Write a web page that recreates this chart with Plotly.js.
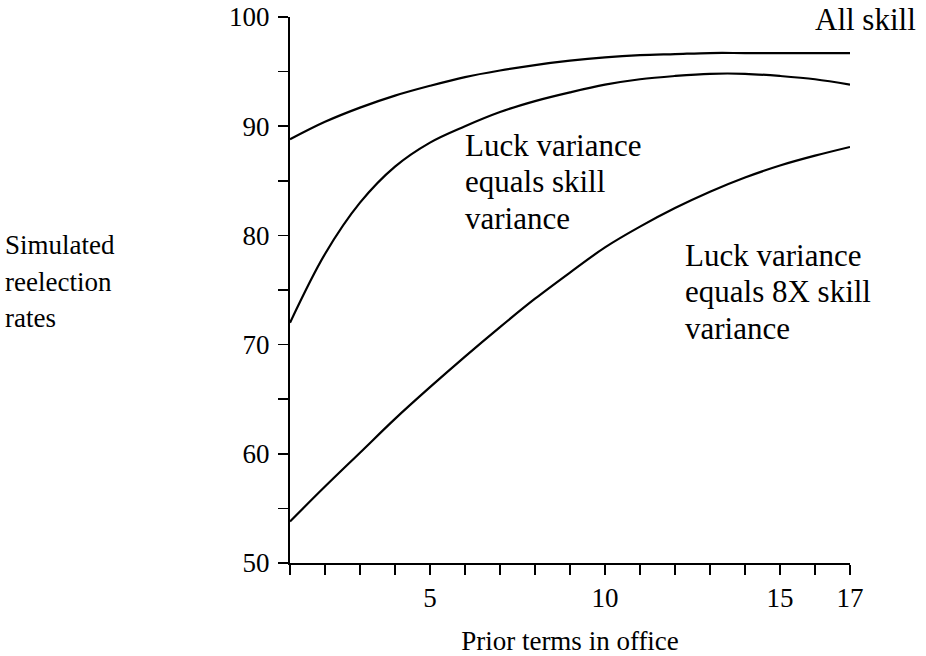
<!DOCTYPE html>
<html>
<head>
<meta charset="utf-8">
<script src="https://cdn.plot.ly/plotly-3.0.1.min.js"></script>
<style>
  html, body { margin: 0; padding: 0; background: #fff; }
  #chart { width: 926px; height: 656px; }
</style>
</head>
<body>
<div id="chart"></div>
<script>
// Prior terms in office
const terms = [1, 2, 3, 4, 5, 6, 7, 8, 9, 10, 11, 12, 13, 14, 15, 16, 17];
// Simulated reelection rates
const allSkill    = [88.8, 90.4, 91.7, 92.8, 93.7, 94.5, 95.1, 95.6, 96.0, 96.3, 96.5, 96.6, 96.7, 96.7, 96.7, 96.7, 96.7];
const luckEqSkill = [72.0, 78.3, 83.0, 86.3, 88.5, 90.0, 91.3, 92.3, 93.1, 93.8, 94.3, 94.6, 94.8, 94.8, 94.6, 94.3, 93.8];
const luck8xSkill = [53.8, 57.0, 60.1, 63.2, 66.1, 68.9, 71.6, 74.2, 76.6, 78.9, 80.8, 82.5, 84.0, 85.3, 86.4, 87.3, 88.1];

const xTickVals = [1, 2, 3, 4, 5, 6, 7, 8, 9, 10, 11, 12, 13, 14, 15, 16, 17];
const xTickText = ['', '', '', '', '5', '', '', '', '', '10', '', '', '', '', '15', '', '17'];
const yTickVals = [50, 55, 60, 65, 70, 75, 80, 85, 90, 95, 100];
const yTickText = ['50', '', '60', '', '70', '', '80', '', '90', '', '100'];

const labelAllSkill = ['All skill'];
const labelLuckEq = ['Luck variance', 'equals skill', 'variance'];
const labelLuck8x = ['Luck variance', 'equals 8X skill', 'variance'];
const labelYTitle = ['Simulated', 'reelection', 'rates'];

const FONT = '"Liberation Serif", "Times New Roman", serif';
const FS = 31;
const lineStyle = {color: '#000', width: 2.2, shape: 'spline', smoothing: 1};

const traces = [allSkill, luckEqSkill, luck8xSkill].map(ys => ({
  x: terms, y: ys, type: 'scatter', mode: 'lines', line: lineStyle,
  hoverinfo: 'skip', showlegend: false
}));

const plotL = 290, plotR = 850, plotT = 17, plotB = 563;
const W = plotR - plotL, H = plotB - plotT;
function px(xPix) { return (xPix - plotL) / W; }
function py(yPix) { return (plotB - yPix) / H; }

const LINE_GAP = 36.5;
const annotations = [];
function addBlock(lines, leftPix, firstCenterPix, size) {
  lines.forEach((t, i) => {
    annotations.push({
      text: t, xref: 'paper', yref: 'paper',
      x: px(leftPix), y: py(firstCenterPix + i * LINE_GAP),
      xanchor: 'left', yanchor: 'middle', showarrow: false,
      font: {family: FONT, size: size, color: '#000'}
    });
  });
}
addBlock(labelAllSkill, 813, 20, FS);
addBlock(labelLuckEq, 463, 145, FS);
addBlock(labelLuck8x, 683, 255, FS);
addBlock(labelYTitle, 3, 245, 27);

const layout = {
  width: 926, height: 656,
  margin: {l: plotL, r: 926 - plotR, t: plotT, b: 656 - plotB},
  paper_bgcolor: '#fff', plot_bgcolor: '#fff',
  font: {family: FONT, size: FS, color: '#000'},
  xaxis: {
    range: [1, 17], tickmode: 'array', tickvals: xTickVals, ticktext: xTickText,
    ticks: 'outside', ticklen: 10, tickwidth: 1.5, tickcolor: '#000',
    showline: true, linecolor: '#000', linewidth: 2, showgrid: false, zeroline: false,
    tickfont: {family: FONT, size: 27, color: '#000'},
    title: {text: 'Prior terms in office', font: {family: FONT, size: 27, color: '#000'}, standoff: 22}
  },
  yaxis: {
    range: [50, 100], tickmode: 'array', tickvals: yTickVals, ticktext: yTickText,
    ticks: 'outside', ticklen: 10, tickwidth: 1.5, tickcolor: '#000',
    showline: true, linecolor: '#000', linewidth: 2, showgrid: false, zeroline: false,
    ticklabelstandoff: 3,
    tickfont: {family: FONT, size: 27, color: '#000'}
  },
  annotations: annotations
};

Plotly.newPlot('chart', traces, layout, {displayModeBar: false, staticPlot: true});
</script>
</body>
</html>
